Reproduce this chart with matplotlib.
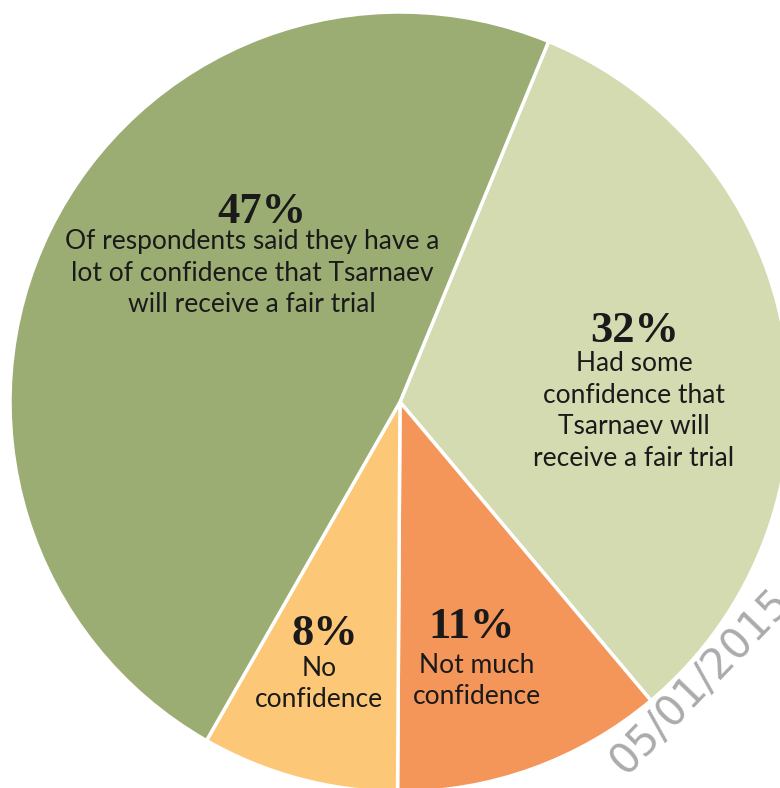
import matplotlib
matplotlib.use("Agg")
import matplotlib.pyplot as plt

# survey shares, drawn clockwise from the upper right
shares = [32, 11, 8, 47]
colors = ["#d4dbb1", "#f4965a", "#fcc878", "#9cad74"]
pct_labels = ["32%", "11%", "8%", "47%"]
captions = [
    "Had some\nconfidence that\nTsarnaev will\nreceive a fair trial",
    "Not much\nconfidence",
    "No\nconfidence",
    "Of respondents said they have a\nlot of confidence that Tsarnaev\nwill receive a fair trial",
]
# label anchors in pixel coords (x, y from top): percent, caption
pct_pos = [(635, 331), (472, 627), (325, 634), (262, 212)]
cap_pos = [(634, 411), (477, 681), (319, 684), (252, 273)]

W, H = 780, 788
fig = plt.figure(figsize=(W / 100, H / 100), dpi=100)
ax = fig.add_axes([0, 0, 1, 1])

ax.pie(shares, colors=colors, startangle=67.6, counterclock=False,
       center=(400, H - 402), radius=390,
       wedgeprops=dict(edgecolor="white", linewidth=2.5))
ax.set_xlim(0, W)
ax.set_ylim(0, H)
ax.set_aspect("equal")
ax.axis("off")

for p, c, (px, py), (cx, cy) in zip(pct_labels, captions, pct_pos, cap_pos):
    ax.text(px, H - py, p, ha="center", va="center", fontsize=32,
            family="Liberation Serif", fontweight="bold", color="#1a1a1a")
    ax.text(cx, H - cy, c, ha="center", va="center", fontsize=19,
            family="Lato", color="#1a1a1a", linespacing=1.33)

# date stamp across the lower right corner
ax.text(700, H - 682, "05/01/2015", rotation=46, ha="center", va="center",
        fontsize=30, family="DejaVu Sans", color="#ababab")

fig.savefig("out.png", dpi=100)
